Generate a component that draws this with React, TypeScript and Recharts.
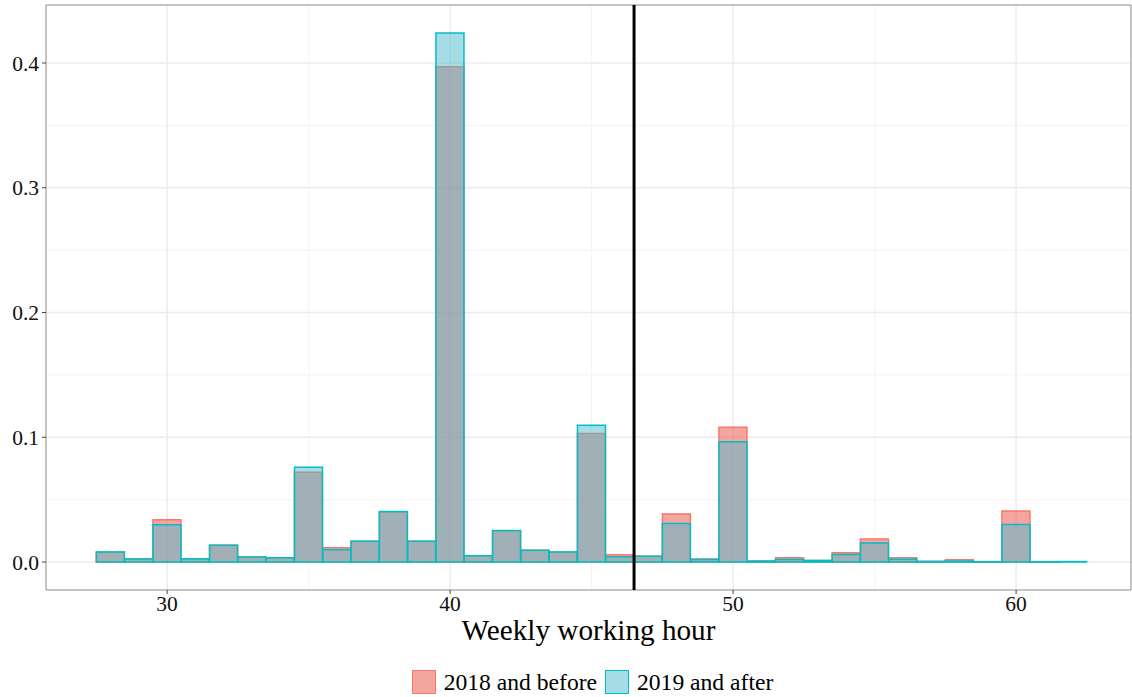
import {
  Bar,
  CartesianGrid,
  ComposedChart,
  Legend,
  ReferenceArea,
  ReferenceLine,
  XAxis,
  YAxis,
} from "recharts";

// bin centres (weekly hours)
const hours = [
  28, 29, 30, 31, 32, 33, 34, 35, 36, 37, 38, 39, 40, 41, 42, 43, 44, 45,
  46, 47, 48, 49, 50, 51, 52, 53, 54, 55, 56, 57, 58, 59, 60, 61, 62,
];

// share of workers, 2018 and before
const before = [
  0.008, 0.0025, 0.034, 0.0027, 0.0135, 0.004, 0.0035, 0.072, 0.0115,
  0.0166, 0.04, 0.0166, 0.397, 0.0051, 0.025, 0.0095, 0.008, 0.103, 0.0059,
  0.0046, 0.0385, 0.0024, 0.108, 0.0008, 0.0035, 0.0013, 0.0075, 0.0184,
  0.0035, 0.0005, 0.0019, 0.0003, 0.0409, 0.0002, 0,
];

// share of workers, 2019 and after
const after = [
  0.008, 0.0024, 0.03, 0.0027, 0.0135, 0.004, 0.0035, 0.076, 0.0099, 0.0166,
  0.0406, 0.0166, 0.424, 0.0051, 0.0252, 0.0094, 0.008, 0.1096, 0.0043,
  0.0046, 0.031, 0.002, 0.0965, 0.0008, 0.002, 0.0013, 0.006, 0.0152, 0.0022,
  0.0005, 0.0008, 0.0003, 0.0302, 0.0003, 0.0004,
];

const xTicks = [30, 40, 50, 60];
const xMinor = [35, 45, 55];
const yTicks = [0, 0.1, 0.2, 0.3, 0.4];
const yMinor = [0.05, 0.15, 0.25, 0.35];
const cutoff = 46.5;

const X_DOMAIN: [number, number] = [25.72, 64.06];
const Y_DOMAIN: [number, number] = [-0.0224, 0.4465];

const data = hours.map((h, i) => ({ h, before: before[i], after: after[i] }));

const FONT = "'Liberation Serif', 'Times New Roman', serif";

const legendItems = [
  { label: "2018 and before", fill: "#f2a69e", stroke: "#F8766D" },
  { label: "2019 and after", fill: "#a6dce6", stroke: "#00BFC4" },
];

const ChartLegend = () => (
  <div
    style={{
      display: "flex",
      justifyContent: "center",
      alignItems: "center",
      height: 40,
      paddingTop: 10,
      paddingLeft: 62,
      boxSizing: "border-box",
      fontFamily: FONT,
      fontSize: 23.6,
      color: "#000",
    }}
  >
    {legendItems.map((it) => (
      <div
        key={it.label}
        style={{ display: "flex", alignItems: "center", marginRight: 8 }}
      >
        <span
          style={{
            width: 22,
            height: 22,
            background: it.fill,
            border: `1.5px solid ${it.stroke}`,
            marginRight: 8,
          }}
        />
        <span>{it.label}</span>
      </div>
    ))}
  </div>
);

export default function App() {
  return (
    <div style={{ position: "absolute", left: 0, top: 0, background: "#fff" }}>
      <ComposedChart
        width={1132}
        height={697}
        data={data}
        margin={{ top: 5, right: 1, bottom: 0, left: 0 }}
        barCategoryGap={0}
        barGap={0}
      >
        <CartesianGrid
          xAxisId="a"
          verticalValues={xMinor}
          horizontalValues={yMinor}
          stroke="#f3f3f3"
          strokeWidth={1}
        />
        <CartesianGrid
          xAxisId="a"
          verticalValues={xTicks}
          horizontalValues={yTicks}
          stroke="#ebebeb"
          strokeWidth={1.4}
        />
        <XAxis
          xAxisId="a"
          type="number"
          dataKey="h"
          domain={X_DOMAIN}
          ticks={xTicks}
          allowDataOverflow
          axisLine={false}
          tickSize={4}
          tickLine={{ stroke: "#444" }}
          tick={{ fill: "#111", fontSize: 21.5, fontFamily: FONT }}
          height={67}
          label={{
            value: "Weekly working hour",
            position: "insideBottom",
            offset: 17,
            style: { fill: "#000", fontSize: 29.2, fontFamily: FONT },
          }}
        />
        <XAxis
          xAxisId="b"
          type="number"
          dataKey="h"
          domain={X_DOMAIN}
          allowDataOverflow
          hide
        />
        <YAxis
          type="number"
          domain={Y_DOMAIN}
          ticks={yTicks}
          allowDataOverflow
          width={46}
          axisLine={false}
          tickSize={4}
          tickMargin={3}
          tickLine={{ stroke: "#444" }}
          tickFormatter={(v: number) => v.toFixed(1)}
          tick={{ fill: "#111", fontSize: 21.5, fontFamily: FONT }}
        />
        <Legend verticalAlign="bottom" content={<ChartLegend />} />
        <Bar
          xAxisId="a"
          dataKey="before"
          name="2018 and before"
          fill="#EC6A5E"
          fillOpacity={0.6}
          stroke="#F8766D"
          strokeWidth={1.5}
          isAnimationActive={false}
        />
        <Bar
          xAxisId="b"
          dataKey="after"
          name="2019 and after"
          fill="#4DB9CD"
          fillOpacity={0.5}
          stroke="#00BFC4"
          strokeWidth={1.5}
          isAnimationActive={false}
        />
        <ReferenceLine
          xAxisId="a"
          x={cutoff}
          stroke="#000"
          strokeWidth={3}
          ifOverflow="visible"
        />
        <ReferenceArea
          xAxisId="a"
          x1={X_DOMAIN[0]}
          x2={X_DOMAIN[1]}
          y1={Y_DOMAIN[0]}
          y2={Y_DOMAIN[1]}
          fill="none"
          stroke="#8a8a8a"
          strokeWidth={1}
          ifOverflow="visible"
        />
      </ComposedChart>
    </div>
  );
}
